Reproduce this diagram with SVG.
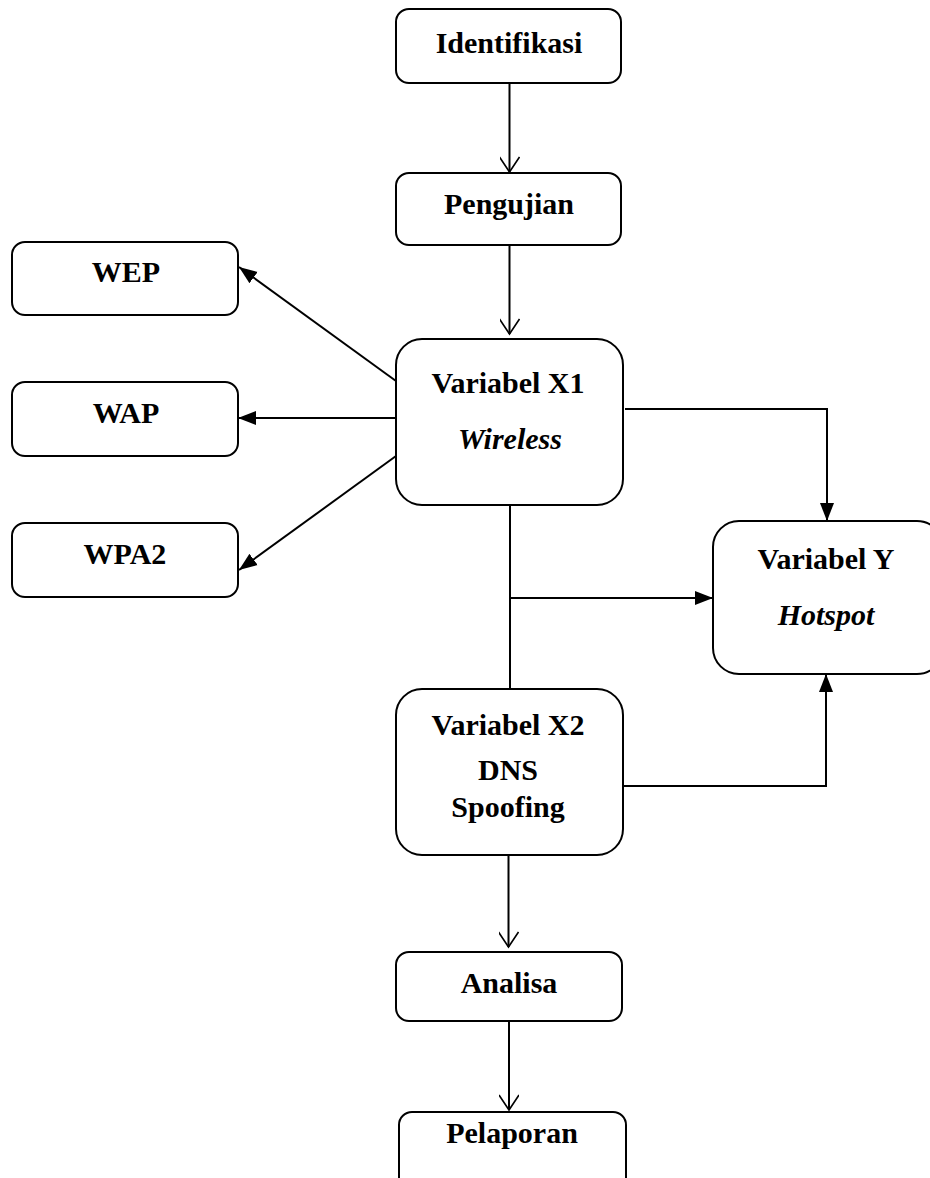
<svg xmlns="http://www.w3.org/2000/svg" width="930" height="1178" viewBox="0 0 930 1178">
<style>
.box{fill:#fff;stroke:#000;stroke-width:2}
.t{font-family:"Liberation Serif","Times New Roman",serif;font-weight:bold;font-size:30px;text-anchor:middle;fill:#000}
.i{font-style:italic}
.c{fill:none;stroke:#000;stroke-width:2}
</style>
<defs>
<marker id="open" markerWidth="24" markerHeight="20" refX="20" refY="10" orient="auto" markerUnits="userSpaceOnUse">
<path d="M5,0 L20,10 L5,20" fill="none" stroke="#000" stroke-width="1.6"/>
</marker>
<marker id="fill" markerWidth="20" markerHeight="16" refX="18" refY="8" orient="auto" markerUnits="userSpaceOnUse">
<path d="M0,1 L18,8 L0,15 Z" fill="#000"/>
</marker>
</defs>
<rect width="930" height="1178" fill="#fff"/>
<g id="connectors">
<line class="c" x1="509.5" y1="83" x2="509.5" y2="172" marker-end="url(#open)"/>
<line class="c" x1="509.5" y1="245" x2="509.5" y2="334" marker-end="url(#open)"/>
<line class="c" x1="396" y1="381" x2="239" y2="267" marker-end="url(#fill)"/>
<line class="c" x1="396" y1="418" x2="238" y2="418" marker-end="url(#fill)"/>
<line class="c" x1="396" y1="456" x2="239" y2="570" marker-end="url(#fill)"/>
<polyline class="c" points="625,409 827,409 827,521" marker-end="url(#fill)"/>
<line class="c" x1="510" y1="505" x2="510" y2="689"/>
<line class="c" x1="510" y1="598" x2="713" y2="598" marker-end="url(#fill)"/>
<polyline class="c" points="623,786 826,786 826,674" marker-end="url(#fill)"/>
<line class="c" x1="508.5" y1="855" x2="508.5" y2="947" marker-end="url(#open)"/>
<line class="c" x1="509" y1="1021" x2="509" y2="1110" marker-end="url(#open)"/>
</g>
<g id="identifikasi"><rect class="box" x="396" y="9" width="225" height="74" rx="13"/><text class="t" x="509" y="53">Identifikasi</text></g>
<g id="pengujian"><rect class="box" x="396" y="173" width="225" height="72" rx="13"/><text class="t" x="509" y="214">Pengujian</text></g>
<g id="wep"><rect class="box" x="12" y="242" width="226" height="73" rx="13"/><text class="t" x="126" y="282">WEP</text></g>
<g id="wap"><rect class="box" x="12" y="382" width="226" height="74" rx="13"/><text class="t" x="126" y="423">WAP</text></g>
<g id="wpa2"><rect class="box" x="12" y="523" width="226" height="74" rx="13"/><text class="t" x="125" y="564">WPA2</text></g>
<g id="x1"><rect class="box" x="396" y="339" width="227" height="166" rx="26"/><text class="t" x="508" y="393">Variabel X1</text><text class="t i" x="510" y="449">Wireless</text></g>
<g id="y"><rect class="box" x="713" y="521" width="230" height="153" rx="26"/><text class="t" x="826" y="569">Variabel Y</text><text class="t i" x="826" y="625">Hotspot</text></g>
<g id="x2"><rect class="box" x="396" y="689" width="227" height="166" rx="26"/><text class="t" x="508" y="735">Variabel X2</text><text class="t" x="508" y="780">DNS</text><text class="t" x="508" y="817">Spoofing</text></g>
<g id="analisa"><rect class="box" x="396" y="952" width="226" height="69" rx="13"/><text class="t" x="509" y="993">Analisa</text></g>
<g id="pelaporan"><rect class="box" x="399" y="1112" width="227" height="80" rx="13"/><text class="t" x="512" y="1143">Pelaporan</text></g>
</svg>
